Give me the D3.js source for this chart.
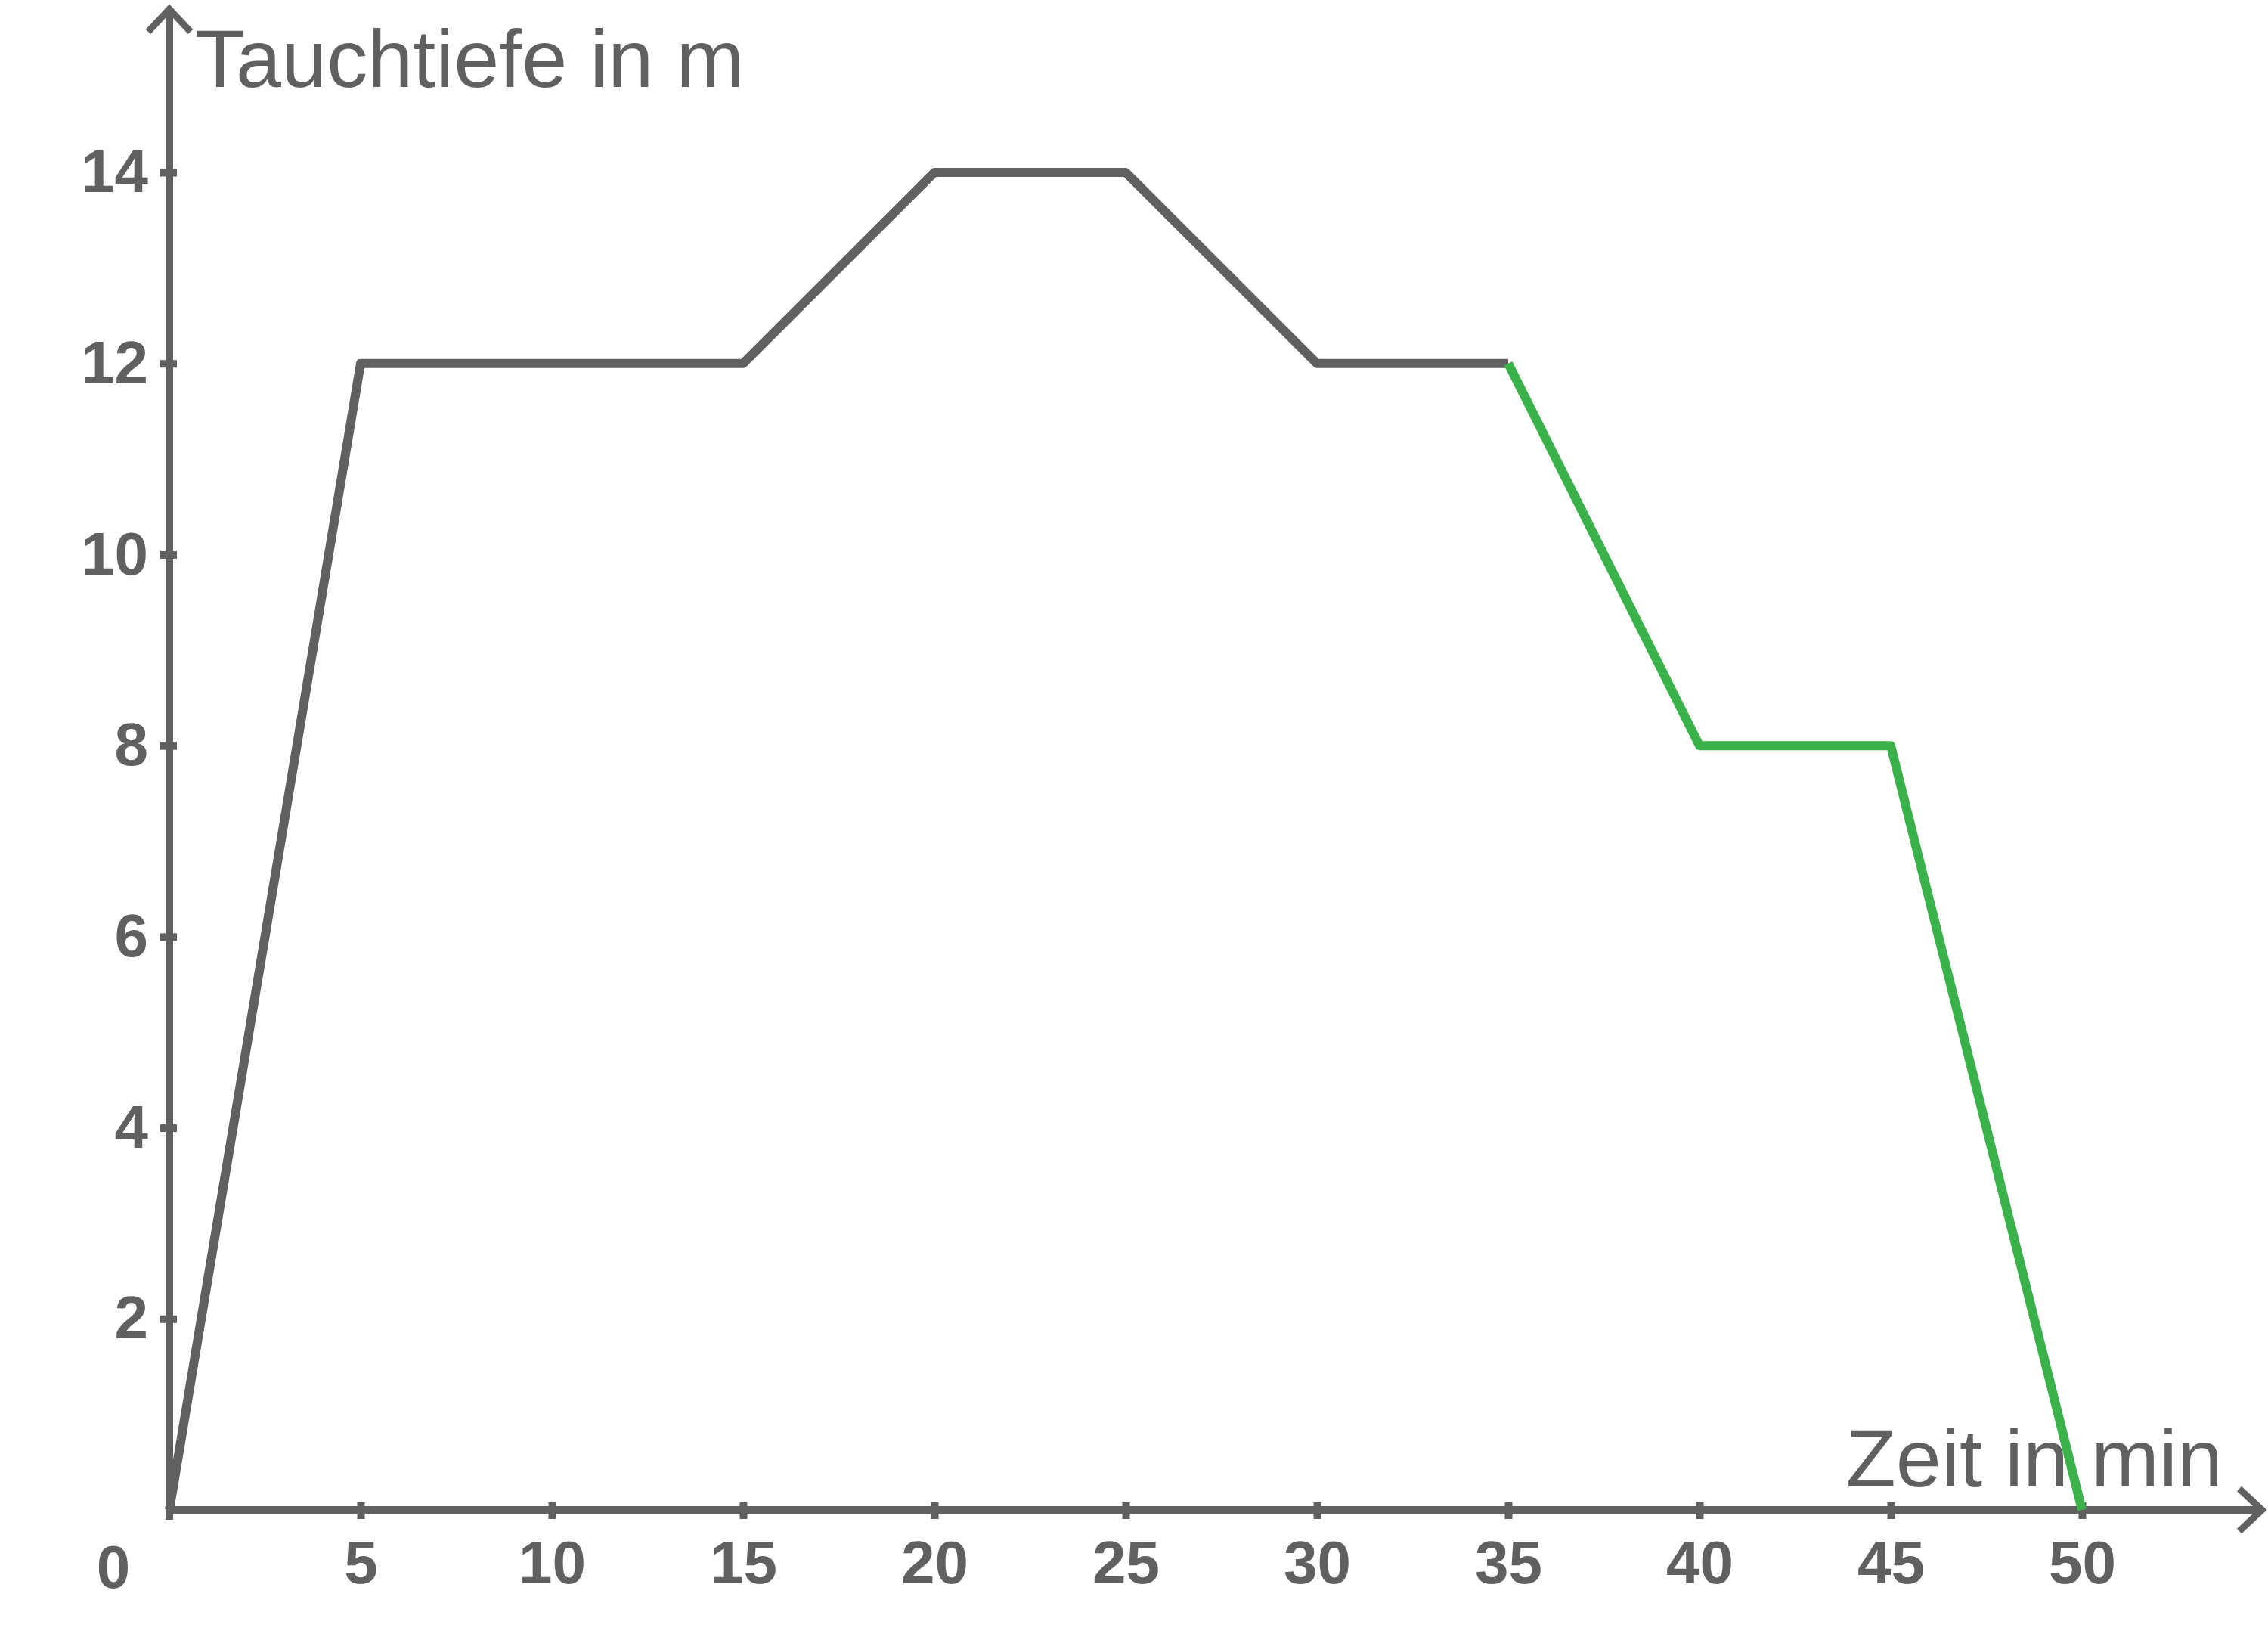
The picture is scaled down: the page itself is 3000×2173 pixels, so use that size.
<!DOCTYPE html><html><head><meta charset="utf-8">
<script src="https://cdn.jsdelivr.net/npm/d3@7"></script>
<style>body{margin:0;background:#fff}</style></head><body>
<script>
const timeGray=[0,5,15,20,25,30,35];
const depthGray=[0,12,12,14,14,12,12];
const timeGreen=[35,40,45,50];
const depthGreen=[12,8,8,0];
const xTicks=[5,10,15,20,25,30,35,40,45,50];
const yTicks=[2,4,6,8,10,12,14];
const W=3000,H=2173,C="#606060",G="#3bb14a";
const svg=d3.select("body").append("svg").attr("width",W).attr("height",H);
const x=d3.scaleLinear().domain([0,50]).range([224,2754]);
const y=d3.scaleLinear().domain([0,14]).range([1997,228]);
// axes
svg.append("line").attr("x1",x(0)).attr("x2",2990).attr("y1",y(0)).attr("y2",y(0)).attr("stroke",C).attr("stroke-width",10);
svg.append("line").attr("x1",x(0)).attr("x2",x(0)).attr("y1",2010).attr("y2",12).attr("stroke",C).attr("stroke-width",10);
svg.append("path").attr("d",`M196,42L224,12L252,42`).attr("fill","none").attr("stroke",C).attr("stroke-width",9);
svg.append("path").attr("d",`M2962,1969L2992,1997L2962,2025`).attr("fill","none").attr("stroke",C).attr("stroke-width",9);
const xa=svg.append("g").attr("transform",`translate(0,${y(0)})`).call(d3.axisBottom(x).tickValues(xTicks).tickSize(20).tickFormat(d3.format("d")));
const ya=svg.append("g").attr("transform",`translate(${x(0)},0)`).call(d3.axisLeft(y).tickValues(yTicks).tickSize(20).tickFormat(d3.format("d")));
[xa,ya].forEach(a=>{a.select(".domain").remove();a.selectAll("line").attr("stroke",C).attr("stroke-width",10);
 a.selectAll("text").attr("fill",C).attr("font-family","Liberation Sans, Arial").attr("font-weight","bold").attr("font-size",80);});
xa.selectAll(".tick line").attr("y1",-10).attr("y2",12);
xa.selectAll("text").attr("y",40);
ya.selectAll(".tick line").attr("x1",10).attr("x2",-12);
ya.selectAll("text").attr("x",-28);
svg.append("text").attr("x",150).attr("y",2100).attr("text-anchor","middle").attr("fill",C).attr("font-family","Liberation Sans, Arial").attr("font-weight","bold").attr("font-size",80).text("0");
svg.append("text").attr("x",258).attr("y",115).attr("fill",C).attr("font-family","Liberation Sans, Arial").attr("font-size",108).text("Tauchtiefe in m");
svg.append("text").attr("x",2940).attr("y",1966).attr("text-anchor","end").attr("fill",C).attr("font-family","Liberation Sans, Arial").attr("font-size",108).text("Zeit in min");
const line=d3.line().x(d=>x(d[0])).y(d=>y(d[1]));
svg.append("path").attr("d",line(d3.zip(timeGray,depthGray))).attr("fill","none").attr("stroke",C).attr("stroke-width",12).attr("stroke-linejoin","round");
svg.append("path").attr("d",line(d3.zip(timeGreen,depthGreen))).attr("fill","none").attr("stroke",G).attr("stroke-width",12).attr("stroke-linejoin","round");
</script></body></html>
